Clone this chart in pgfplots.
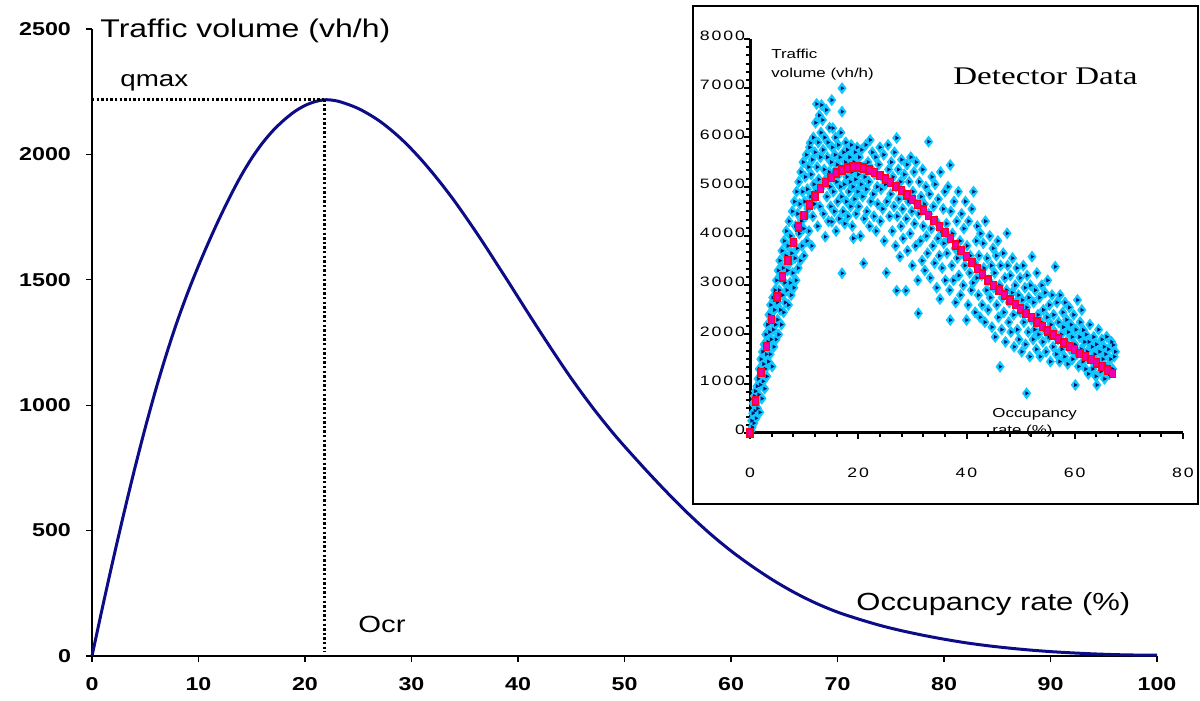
\documentclass[border=0pt]{standalone}
\usepackage{pgfplots}
\pgfplotsset{compat=1.18}
\usepackage{pgfplotstable}
\usepackage{fontspec}
\setmainfont{Liberation Sans}[FakeStretch=1.25]
\newfontfamily\insetfont{Liberation Sans}[FakeStretch=1.3,LetterSpace=14]
\newfontfamily\insettext{Liberation Sans}[FakeStretch=1.3]
\newfontfamily\timesfont{Liberation Serif}[FakeStretch=1.3]
\definecolor{curveblue}{RGB}{12,12,135}
\definecolor{scatcyan}{RGB}{15,200,255}
\definecolor{scatnavy}{RGB}{0,20,110}
\definecolor{fitred}{RGB}{255,0,30}
\definecolor{fitpink}{RGB}{240,0,170}

\pgfplotstableread[row sep=\\]{
x y \\
0 0 \\ 1 197 \\ 2 387 \\ 3 570 \\ 4 745 \\ 5 910 \\ 6 1064 \\ 7 1205 \\ 8 1334 \\ 9 1450 \\
10 1556 \\ 11 1655 \\ 12 1748 \\ 13 1835 \\ 14 1915 \\ 15 1985 \\ 16 2045 \\ 17 2095 \\ 18 2136 \\ 19 2170 \\
20 2195 \\ 21 2211 \\ 22 2218 \\ 23 2213 \\ 24 2200 \\ 25 2183 \\ 26 2160 \\ 27 2133 \\ 28 2100 \\ 29 2063 \\
30 2021 \\ 31 1975 \\ 32 1925 \\ 33 1872 \\ 34 1816 \\ 35 1756 \\ 36 1694 \\ 37 1630 \\ 38 1564 \\ 39 1498 \\
40 1431 \\ 41 1364 \\ 42 1298 \\ 43 1233 \\ 44 1169 \\ 45 1107 \\ 46 1048 \\ 47 991 \\ 48 937 \\ 49 885 \\
50 836 \\ 52 742 \\ 54 652 \\ 56 567 \\ 58 489 \\ 60 419 \\ 62 357 \\ 64 301 \\ 66 252 \\ 68 210 \\
70 175 \\ 72 147 \\ 74 122 \\ 76 101 \\ 78 83 \\ 80 67 \\ 82 53 \\ 84 41.5 \\ 86 32 \\ 88 24 \\
90 17.5 \\ 92 12.5 \\ 94 8.5 \\ 96 5.5 \\ 98 3.8 \\ 100 3 \\
}\maincurve

\pgfplotstableread[row sep=\\]{
x y \\
0 0 \\ 1 650 \\ 2 1230 \\ 3 1760 \\ 4 2300 \\ 5 2760 \\ 6 3170 \\ 7 3500 \\ 8 3870 \\ 9 4180 \\
10 4420 \\ 11 4630 \\ 12 4810 \\ 13 4970 \\ 14 5090 \\ 15 5190 \\ 16 5280 \\ 17 5340 \\ 18 5380 \\ 19 5400 \\
20 5400 \\ 21 5380 \\ 22 5340 \\ 23 5290 \\ 24 5230 \\ 25 5160 \\ 26 5090 \\ 27 5010 \\ 28 4920 \\ 29 4830 \\
30 4740 \\ 31 4640 \\ 32 4530 \\ 33 4420 \\ 34 4310 \\ 35 4190 \\ 36 4070 \\ 37 3950 \\ 38 3820 \\ 39 3700 \\
40 3580 \\ 41 3460 \\ 42 3340 \\ 43 3230 \\ 44 3110 \\ 45 3000 \\ 46 2900 \\ 47 2800 \\ 48 2700 \\ 49 2610 \\
50 2520 \\ 51 2430 \\ 52 2340 \\ 53 2250 \\ 54 2160 \\ 55 2070 \\ 56 1990 \\ 57 1910 \\ 58 1830 \\ 59 1760 \\
60 1690 \\ 61 1620 \\ 62 1550 \\ 63 1490 \\ 64 1420 \\ 65 1350 \\ 66 1280 \\ 67 1210 \\
}\fitdata

\pgfplotstableread[row sep=\\]{
x y \\
0.2 50 \\ 0.3 250 \\ 0.4 120 \\ 0.5 400 \\ 0.6 600 \\ 0.7 200 \\ 0.8 750 \\ 0.9 450 \\ 1.0 850 \\ 1.1 300 \\
1.2 620 \\ 1.3 950 \\ 1.4 500 \\ 1.5 1100 \\ 1.6 780 \\ 1.7 1300 \\ 1.8 420 \\ 1.9 980 \\ 2.0 1500 \\ 2.1 1200 \\
2.2 700 \\ 2.3 1650 \\ 2.4 1050 \\ 2.5 1400 \\ 2.6 1800 \\ 2.7 900 \\ 2.8 1300 \\ 2.9 2000 \\ 3.0 1600 \\ 3.1 1150 \\
3.2 2200 \\ 3.3 1850 \\ 3.4 1450 \\ 3.5 2400 \\ 3.6 2050 \\ 3.7 1600 \\ 3.8 2600 \\ 3.9 1900 \\ 4.0 2300 \\ 4.1 1350 \\
4.2 2750 \\ 4.3 2100 \\ 4.4 1750 \\ 4.5 2500 \\ 4.6 2900 \\ 4.7 2200 \\ 4.8 1900 \\ 4.9 3100 \\ 5.0 2650 \\ 5.1 2300 \\
5.2 3300 \\ 5.3 2000 \\ 5.4 2900 \\ 5.5 3500 \\ 5.6 2500 \\ 5.7 3150 \\ 5.8 2200 \\ 5.9 3700 \\ 6.0 2800 \\ 6.1 3350 \\
6.2 2450 \\ 6.3 3900 \\ 6.4 3050 \\ 6.5 2650 \\ 6.6 3600 \\ 6.7 4100 \\ 6.8 2900 \\ 6.9 3300 \\ 7.0 3800 \\ 7.1 2600 \\
7.2 4300 \\ 7.3 3450 \\ 7.4 3050 \\ 7.5 4000 \\ 7.6 2800 \\ 7.7 3650 \\ 7.8 4500 \\ 7.9 3250 \\ 8.0 3900 \\ 8.1 2950 \\
8.2 4700 \\ 8.3 3550 \\ 8.4 4200 \\ 8.5 3100 \\ 8.6 4900 \\ 8.7 3750 \\ 8.8 4450 \\ 8.9 3350 \\ 9.0 5100 \\ 9.1 4050 \\
9.2 4650 \\ 9.3 3500 \\ 9.4 5300 \\ 9.5 4300 \\ 9.6 3800 \\ 9.7 4900 \\ 9.8 5500 \\ 9.9 4150 \\ 10.0 3600 \\ 10.1 4700 \\
10.2 5200 \\ 10.3 4400 \\ 10.4 5650 \\ 10.5 3900 \\ 10.6 4950 \\ 10.7 4550 \\ 10.8 5400 \\ 10.9 4100 \\ 11.0 5800 \\ 11.1 5890 \\
11.2 4800 \\ 11.3 5250 \\ 11.4 3800 \\ 11.5 5550 \\ 11.6 4400 \\ 11.7 6000 \\ 11.8 5050 \\ 11.9 4650 \\ 12.0 5700 \\ 12.1 6300 \\
12.2 4900 \\ 12.3 6680 \\ 12.4 5400 \\ 12.5 4200 \\ 12.6 5900 \\ 12.7 5150 \\ 12.8 6450 \\ 12.9 4600 \\ 13.0 5600 \\ 13.1 6100 \\
13.2 6660 \\ 13.3 5000 \\ 13.4 6355 \\ 13.5 5750 \\ 13.6 4450 \\ 13.7 5350 \\ 13.8 6000 \\ 13.9 3986 \\ 14.0 5150 \\ 14.1 6560 \\
14.2 4800 \\ 14.3 5600 \\ 14.4 5900 \\ 14.5 4300 \\ 14.6 5300 \\ 14.7 6200 \\ 14.8 5000 \\ 14.9 4600 \\ 15.0 5500 \\ 15.1 6760 \\
15.1 4290 \\ 15.2 5800 \\ 15.3 6190 \\ 15.4 4900 \\ 15.5 5300 \\ 15.6 4500 \\ 15.7 5650 \\ 15.8 6000 \\ 15.9 4100 \\ 16.0 5100 \\
16.1 5450 \\ 16.2 4700 \\ 16.3 5850 \\ 16.4 5250 \\ 16.5 4350 \\ 16.6 5600 \\ 16.7 5000 \\ 16.8 6100 \\ 16.9 4800 \\ 17.0 7000 \\
17.0 6525 \\ 17.0 3243 \\ 17.1 5350 \\ 17.2 4500 \\ 17.3 5700 \\ 17.4 5050 \\ 17.5 4250 \\ 17.6 5500 \\ 17.7 5900 \\ 17.8 4700 \\
17.9 5200 \\ 18.0 5750 \\ 18.1 4400 \\ 18.2 5400 \\ 18.3 4900 \\ 18.4 5600 \\ 18.5 5100 \\ 18.6 4600 \\ 18.7 5850 \\ 18.8 5300 \\
18.9 4200 \\ 19.0 5000 \\ 19.1 3953 \\ 19.2 5500 \\ 19.3 4750 \\ 19.4 5700 \\ 19.5 5150 \\ 19.6 4450 \\ 19.7 5350 \\ 19.8 5800 \\
19.9 4900 \\ 20.0 5250 \\ 20.1 4600 \\ 20.2 5600 \\ 20.4 4000 \\ 20.5 5050 \\ 20.6 5750 \\ 20.8 4800 \\ 20.9 5400 \\ 21.0 3446 \\
21.1 4350 \\ 21.2 5200 \\ 21.4 5850 \\ 21.5 4950 \\ 21.6 4500 \\ 21.8 5500 \\ 22.0 5100 \\ 22.1 4200 \\ 22.2 5950 \\ 22.3 4700 \\
22.5 5350 \\ 22.6 5700 \\ 22.8 4850 \\ 22.9 4400 \\ 23.0 5250 \\ 23.2 5600 \\ 23.3 4100 \\ 23.5 5000 \\ 23.6 4650 \\ 23.8 5450 \\
24.0 5800 \\ 24.1 4300 \\ 24.2 4950 \\ 24.4 5200 \\ 24.5 4550 \\ 24.7 5650 \\ 24.8 3900 \\ 25.0 5050 \\ 25.2 3255 \\ 25.3 4700 \\
25.5 5850 \\ 25.6 5350 \\ 25.8 4400 \\ 26.0 4850 \\ 26.1 5500 \\ 26.3 4100 \\ 26.4 5200 \\ 26.6 4600 \\ 26.7 5700 \\ 26.9 3800 \\
27.0 5000 \\ 27.1 5990 \\ 27.1 2890 \\ 27.2 4400 \\ 27.4 5350 \\ 27.5 4750 \\ 27.7 3580 \\ 27.8 5100 \\ 27.9 4200 \\ 28.0 5550 \\
28.2 4550 \\ 28.3 3950 \\ 28.5 5250 \\ 28.6 4850 \\ 28.8 2890 \\ 28.9 4350 \\ 29.0 5450 \\ 29.1 3700 \\ 29.3 4700 \\ 29.4 5100 \\
29.6 4050 \\ 29.7 5600 \\ 29.9 4500 \\ 30.0 3400 \\ 30.1 4900 \\ 30.3 5300 \\ 30.4 4250 \\ 30.6 3800 \\ 30.7 5500 \\ 30.9 4650 \\
31.0 3100 \\ 31.1 2430 \\ 31.2 4450 \\ 31.3 5100 \\ 31.5 3900 \\ 31.6 4800 \\ 31.8 3500 \\ 31.9 5350 \\ 32.0 4200 \\ 32.2 4650 \\
32.3 3300 \\ 32.5 5000 \\ 32.6 4000 \\ 32.8 3650 \\ 33.0 5915 \\ 33.0 4450 \\ 33.2 4850 \\ 33.3 3150 \\ 33.5 4150 \\ 33.6 5200 \\
33.8 3800 \\ 33.9 4600 \\ 34.1 3450 \\ 34.2 5050 \\ 34.4 4300 \\ 34.5 2950 \\ 34.7 3950 \\ 34.8 4750 \\ 35.0 3600 \\ 35.1 2720 \\
35.2 5300 \\ 35.4 4100 \\ 35.5 3350 \\ 35.7 4550 \\ 35.8 3850 \\ 36.0 4900 \\ 36.1 3100 \\ 36.3 4250 \\ 36.4 3650 \\ 36.6 5000 \\
36.7 3950 \\ 36.9 2900 \\ 37.0 5440 \\ 37.0 2294 \\ 37.1 4500 \\ 37.3 3400 \\ 37.4 4050 \\ 37.6 3100 \\ 37.7 4700 \\ 37.9 3750 \\
38.0 2650 \\ 38.2 4300 \\ 38.3 3550 \\ 38.5 4900 \\ 38.6 3200 \\ 38.8 3900 \\ 38.9 2800 \\ 39.1 4450 \\ 39.2 3650 \\ 39.4 3000 \\
39.5 4150 \\ 39.7 3400 \\ 39.8 4700 \\ 40.0 2294 \\ 40.1 3800 \\ 40.3 2600 \\ 40.4 4300 \\ 40.6 3250 \\ 40.7 3600 \\ 40.9 2900 \\
41.0 4550 \\ 41.2 3050 \\ 41.3 4900 \\ 41.5 3450 \\ 41.6 2450 \\ 41.8 3900 \\ 41.9 3150 \\ 42.0 4200 \\ 42.2 2800 \\ 42.3 3600 \\
42.5 2350 \\ 42.6 4050 \\ 42.8 3200 \\ 42.9 2600 \\ 43.1 3850 \\ 43.2 3350 \\ 43.4 2250 \\ 43.5 4300 \\ 43.7 2900 \\ 43.8 3550 \\
44.0 2500 \\ 44.1 3100 \\ 44.3 4000 \\ 44.4 2750 \\ 44.6 3400 \\ 44.7 2150 \\ 44.9 3750 \\ 45.0 2950 \\ 45.2 3250 \\ 45.3 1950 \\
45.5 3600 \\ 45.6 2600 \\ 45.8 3900 \\ 45.9 2350 \\ 46.1 3000 \\ 46.2 1346 \\ 46.3 3400 \\ 46.5 2100 \\ 46.6 2750 \\ 46.8 3650 \\
46.9 2450 \\ 47.1 3150 \\ 47.2 1850 \\ 47.4 2900 \\ 47.5 4055 \\ 47.6 3400 \\ 47.8 2250 \\ 47.9 2650 \\ 48.1 3200 \\ 48.2 2050 \\
48.4 2850 \\ 48.5 3550 \\ 48.7 2400 \\ 48.8 1750 \\ 49.0 3000 \\ 49.1 2650 \\ 49.3 3350 \\ 49.4 2100 \\ 49.6 2800 \\ 49.7 1900 \\
49.9 3150 \\ 50.0 2450 \\ 50.2 1650 \\ 50.3 2700 \\ 50.5 3400 \\ 50.6 2250 \\ 50.8 2950 \\ 50.9 1800 \\ 51.1 806 \\ 51.1 2550 \\
51.2 3200 \\ 51.4 2050 \\ 51.5 2750 \\ 51.7 1550 \\ 51.8 3000 \\ 52.0 2300 \\ 52.1 3580 \\ 52.3 1900 \\ 52.4 2650 \\ 52.6 2100 \\
52.7 2900 \\ 52.9 1700 \\ 53.0 3250 \\ 53.2 2400 \\ 53.3 2000 \\ 53.5 2750 \\ 53.6 1550 \\ 53.8 2250 \\ 53.9 3000 \\ 54.1 1850 \\
54.2 2500 \\ 54.4 2100 \\ 54.5 2850 \\ 54.7 1650 \\ 54.9 2350 \\ 55.0 3100 \\ 55.2 1950 \\ 55.3 2600 \\ 55.5 1450 \\ 55.6 2200 \\
55.8 2800 \\ 56.0 1750 \\ 56.1 2400 \\ 56.3 2050 \\ 56.4 3377 \\ 56.6 1600 \\ 56.7 2650 \\ 56.9 1900 \\ 57.0 2250 \\ 57.2 1450 \\
57.3 2800 \\ 57.5 2000 \\ 57.6 1700 \\ 57.8 2450 \\ 57.9 2150 \\ 58.1 1550 \\ 58.2 2650 \\ 58.4 1850 \\ 58.5 2300 \\ 58.7 1400 \\
58.8 2050 \\ 59.0 2550 \\ 59.1 1700 \\ 59.3 2200 \\ 59.5 1950 \\ 59.6 1500 \\ 59.8 2400 \\ 60.0 1800 \\ 60.1 975 \\ 60.2 2100 \\
60.4 1600 \\ 60.5 2700 \\ 60.7 1350 \\ 60.9 1950 \\ 61.0 2250 \\ 61.2 1700 \\ 61.3 2497 \\ 61.5 1450 \\ 61.6 2090 \\ 61.8 1850 \\
62.0 1300 \\ 62.1 2000 \\ 62.3 1650 \\ 62.5 1200 \\ 62.6 1850 \\ 62.8 2200 \\ 63.0 1500 \\ 63.2 1750 \\ 63.3 1300 \\ 63.5 1950 \\
63.7 1600 \\ 63.9 1150 \\ 64.0 1800 \\ 64.1 975 \\ 64.2 1450 \\ 64.4 2100 \\ 64.6 1650 \\ 64.8 1250 \\ 65.0 1900 \\ 65.2 1500 \\
65.4 1750 \\ 65.5 1100 \\ 65.7 1600 \\ 65.9 1955 \\ 66.0 1350 \\ 66.2 1700 \\ 66.4 1200 \\ 66.6 1500 \\ 66.8 1850 \\ 67.0 1300 \\
67.1 1787 \\ 67.3 1550 \\ 67.5 1650 \\
}\scatterdata

\begin{document}
\begin{tikzpicture}
\useasboundingbox (0,0) rectangle (600pt,350.5pt);
\begin{axis}[
  at={(46pt,22.5pt)}, anchor=south west,
  scale only axis, width=532.5pt, height=313.5pt,
  xmin=0, xmax=100, ymin=0, ymax=2500,
  axis lines=left, axis line style={-, line width=0.6pt, black},
  xtick={0,10,...,100}, ytick={0,500,...,2500},
  tick align=outside, major tick length=3pt,
  tick style={black, line width=0.6pt},
  /pgf/number format/assume math mode=true,
  /pgf/number format/1000 sep={},
  scaled ticks=false,
  ticklabel style={font=\bfseries\fontsize{9.3}{10}\selectfont},
  xticklabel style={yshift=-4pt},
  yticklabel style={xshift=-4pt},
  clip=false,
]
\addplot[curveblue, line width=1.5pt, smooth, tension=0.5] table {\maincurve};
\addplot[black, line width=1.4pt, dash pattern=on 1.2pt off 1.1pt] coordinates {(0,2220) (21.8,2220)};
\addplot[black, line width=1.4pt, dash pattern=on 1.2pt off 1.1pt] coordinates {(21.8,2220) (21.8,15)};
\end{axis}

\node[anchor=base west, inner sep=0, font=\fontsize{12.8}{14}\selectfont] at (50pt,331.5pt) {Traffic volume (vh/h)};
\node[anchor=base west, inner sep=0, font=\fontsize{11.1}{13}\selectfont] at (60pt,307pt) {qmax};
\node[anchor=base west, inner sep=0, font=\fontsize{11.7}{13}\selectfont] at (179pt,34pt) {Ocr};
\node[anchor=base west, inner sep=0, font=\fontsize{12.4}{14}\selectfont] at (428pt,45pt) {Occupancy rate (\%)};

\fill[white] (346.5pt,98.5pt) rectangle (599pt,347.5pt);
\draw[black, line width=1pt] (346.5pt,98.5pt) rectangle (599pt,347.5pt);

\begin{axis}[
  at={(375pt,134pt)}, anchor=south west,
  scale only axis, width=216.5pt, height=197pt,
  xmin=0, xmax=80, ymin=0, ymax=8000,
  axis lines=left, axis line style={-, line width=1.5pt, black},
  xtick={0,20,...,80}, ytick={0,1000,...,8000},
  minor x tick num=4, minor y tick num=5,
  tick align=outside, major tick length=3pt, minor tick length=2pt,
  tick style={black, line width=1pt},
  /pgf/number format/assume math mode=true,
  /pgf/number format/1000 sep={},
  scaled ticks=false,
  ticklabel style={font=\insetfont\fontsize{6.8}{7}\selectfont},
  xticklabel style={yshift=-11pt},
  yticklabel style={yshift=1.5pt, xshift=4pt},
  clip=false,
]
\addplot[only marks, mark=diamond*, mark size=2.7pt, color=scatcyan] table {\scatterdata};
\addplot[only marks, mark=triangle*, mark size=0.8pt, color=scatnavy, mark options={rotate=-90}] table {\scatterdata};
\addplot[only marks, mark=square*, mark size=2pt, mark options={xscale=0.75, fill=fitpink, draw=fitred, line width=0.7pt}] table {\fitdata};
\end{axis}

\node[anchor=base west, inner sep=0, font=\timesfont\fontsize{12.7}{14}\selectfont] at (476.5pt,308pt) {Detector Data};
\node[anchor=base west, inner sep=0, font=\insettext\fontsize{6.5}{7}\selectfont] at (385.5pt,321pt) {Traffic};
\node[anchor=base west, inner sep=0, font=\insettext\fontsize{6.5}{7}\selectfont] at (385.5pt,311.5pt) {volume (vh/h)};
\node[anchor=base west, inner sep=0, font=\insettext\fontsize{6.5}{7}\selectfont] at (496pt,141.5pt) {Occupancy};
\node[anchor=base west, inner sep=0, font=\insettext\fontsize{6.5}{7}\selectfont] at (496pt,133pt) {rate (\%)};
\end{tikzpicture}
\end{document}
